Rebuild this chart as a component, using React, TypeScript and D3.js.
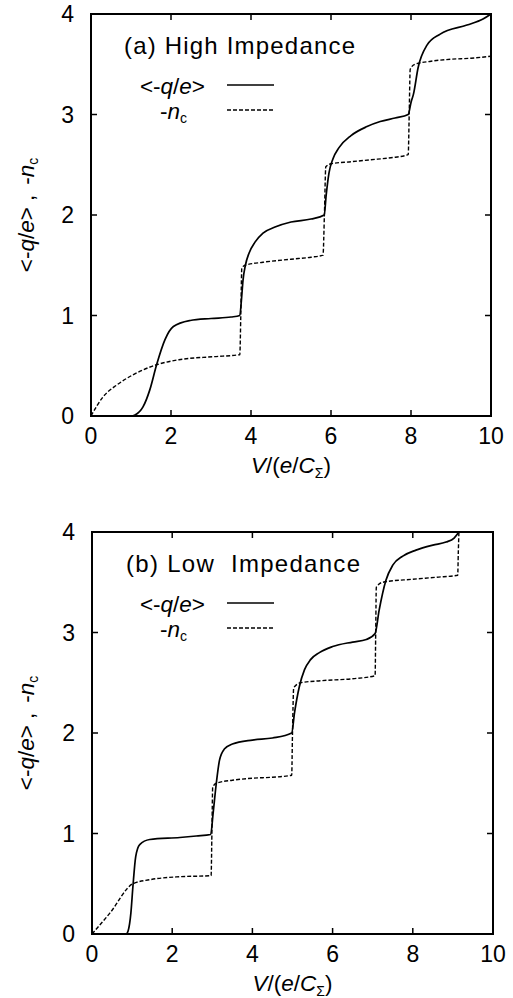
import React from 'react';
import * as d3 from 'd3';

// values: [V/(e/CΣ), value]
const highCharge: [number, number][] = [
  [0, 0], [1.0, 0], [1.1, 0.01], [1.3, 0.09], [1.47, 0.26], [1.64, 0.51], [1.85, 0.76],
  [2.06, 0.89], [2.48, 0.95], [3.0, 0.97], [3.5, 0.985], [3.72, 1.0], [3.76, 1.15],
  [3.8, 1.35], [3.86, 1.5], [3.95, 1.62], [4.1, 1.73], [4.3, 1.82], [4.6, 1.88],
  [5.0, 1.93], [5.5, 1.96], [5.83, 2.0], [5.88, 2.2], [5.95, 2.42], [6.05, 2.56],
  [6.2, 2.67], [6.5, 2.79], [6.9, 2.88], [7.23, 2.93], [7.6, 2.965], [7.93, 3.0],
  [8.0, 3.12], [8.06, 3.2], [8.18, 3.47], [8.4, 3.69], [8.73, 3.8], [9.4, 3.89],
  [9.8, 3.95], [10, 4.0],
];
const highIsland: [number, number][] = [
  [0, 0], [0.3, 0.19], [0.65, 0.31], [1.05, 0.41], [1.64, 0.51], [2.2, 0.56],
  [3.05, 0.59], [3.72, 0.61], [3.745, 1.0], [3.77, 1.47], [3.85, 1.5], [4.3, 1.53],
  [5.0, 1.56], [5.5, 1.58], [5.8, 1.6], [5.835, 2.0], [5.87, 2.48], [6.0, 2.51],
  [6.5, 2.53], [7.0, 2.55], [7.5, 2.57], [7.93, 2.6], [7.955, 3.0], [7.98, 3.45],
  [8.1, 3.5], [8.5, 3.53], [9.0, 3.55], [9.5, 3.56], [10, 3.58],
];
const lowCharge: [number, number][] = [
  [0, 0], [0.85, 0], [0.9, 0.03], [0.97, 0.21], [1.02, 0.47], [1.09, 0.77],
  [1.19, 0.89], [1.44, 0.94], [2.19, 0.96], [2.6, 0.975], [2.96, 0.99], [3.02, 1.2],
  [3.1, 1.5], [3.18, 1.73], [3.3, 1.84], [3.5, 1.89], [4.0, 1.93], [4.5, 1.95],
  [4.98, 2.0], [5.05, 2.2], [5.17, 2.46], [5.3, 2.63], [5.45, 2.73], [5.67, 2.8],
  [6.0, 2.86], [6.5, 2.905], [6.84, 2.93], [7.06, 2.99], [7.16, 3.22], [7.33, 3.52],
  [7.5, 3.67], [7.75, 3.76], [8.08, 3.82], [8.5, 3.87], [8.83, 3.9], [9.03, 3.94],
  [9.15, 4.0],
];
const lowIsland: [number, number][] = [
  [0, 0], [0.45, 0.21], [1.02, 0.5], [1.44, 0.54], [2.19, 0.57], [2.97, 0.58],
  [2.99, 1.0], [3.01, 1.46], [3.1, 1.5], [3.5, 1.53], [4.0, 1.55], [4.5, 1.56],
  [4.98, 1.58], [5.0, 2.0], [5.03, 2.45], [5.2, 2.5], [5.7, 2.52], [6.5, 2.54],
  [7.06, 2.57], [7.075, 3.0], [7.09, 3.45], [7.25, 3.5], [8.0, 3.53], [8.6, 3.55],
  [9.12, 3.57], [9.135, 3.8], [9.15, 4.0],
];

const xTicks = [0, 2, 4, 6, 8, 10];
const yTicks = [0, 1, 2, 3, 4];
const titles = ['(a) High Impedance', '(b) Low  Impedance'];

const FONT = '"Liberation Sans", Arial, Helvetica, sans-serif';

type PanelProps = {
  left: number; right: number; top: number; bottom: number;
  title: string; titleX: number; titleLen: number;
  charge: [number, number][]; island: [number, number][];
};

const Panel = ({ left, right, top, bottom, title, titleX, titleLen, charge, island }: PanelProps) => {
  const x = d3.scaleLinear().domain([0, 10]).range([left, right]);
  const y = d3.scaleLinear().domain([0, 4]).range([bottom, top]);
  const line = d3.line<[number, number]>()
    .x(d => x(d[0]))
    .y(d => y(d[1]))
    .curve(d3.curveMonotoneX);
  const tk = 6;
  const midY = (top + bottom) / 2;
  const midX = (left + right) / 2;

  return (
    <g fontFamily={FONT} fill="#000">
      <path d={line(island) ?? ''} fill="none" stroke="#000" strokeWidth={1.4} strokeDasharray="4,2" />
      <path d={line(charge) ?? ''} fill="none" stroke="#000" strokeWidth={1.7} />

      {xTicks.map(t => (
        <g key={'x' + t}>
          <line x1={x(t)} x2={x(t)} y1={bottom} y2={bottom - tk} stroke="#000" strokeWidth={1.5} />
          <line x1={x(t)} x2={x(t)} y1={top} y2={top + tk} stroke="#000" strokeWidth={1.5} />
          <text x={x(t)} y={bottom + 28} textAnchor="middle" fontSize={23}>{t}</text>
        </g>
      ))}
      {yTicks.map(t => (
        <g key={'y' + t}>
          <line x1={left} x2={left + tk} y1={y(t)} y2={y(t)} stroke="#000" strokeWidth={1.5} />
          <line x1={right} x2={right - tk} y1={y(t)} y2={y(t)} stroke="#000" strokeWidth={1.5} />
          <text x={left - 17} y={y(t) + 8} textAnchor="end" fontSize={23}>{t}</text>
        </g>
      ))}
      <rect x={left} y={top} width={right - left} height={bottom - top} fill="none" stroke="#000" strokeWidth={2} />

      <text x={titleX} y={top + 40} fontSize={24} textLength={titleLen} lengthAdjust="spacing"
        style={{ whiteSpace: 'pre' }}>{title}</text>

      {/* legend */}
      <text x={205} y={top + 80} textAnchor="end" fontSize={22.5}>
        {'<-'}<tspan fontStyle="italic">q</tspan>/<tspan fontStyle="italic">e</tspan>{'>'}
      </text>
      <line x1={227} x2={274} y1={top + 71} y2={top + 71} stroke="#000" strokeWidth={1.5} />
      <text x={160} y={top + 105} fontSize={22.5}>
        -<tspan fontStyle="italic">n</tspan><tspan fontSize={14} dy={4}>c</tspan>
      </text>
      <line x1={227} x2={274} y1={top + 96} y2={top + 96} stroke="#000" strokeWidth={1.4} strokeDasharray="4,2" />

      {/* axis titles */}
      <text x={midX} y={bottom + 57} textAnchor="middle" fontSize={22.5}>
        <tspan fontStyle="italic">V</tspan>/(<tspan fontStyle="italic">e</tspan>/<tspan fontStyle="italic">C</tspan>
        <tspan fontSize={14} dy={5}>Σ</tspan><tspan dy={-5}>)</tspan>
      </text>
      <text transform={`translate(34, ${midY}) rotate(-90)`} textAnchor="middle" fontSize={22.5}>
        {'<-'}<tspan fontStyle="italic">q</tspan>/<tspan fontStyle="italic">e</tspan>{'>'}
        <tspan dx={6}>,</tspan>
        <tspan dx={10}>-</tspan><tspan fontStyle="italic">n</tspan><tspan fontSize={14} dy={4}>c</tspan>
      </text>
    </g>
  );
};

export default function App() {
  return (
    <div style={{ position: 'absolute', left: 0, top: 0, background: '#fff' }}>
      <svg width={513} height={998} viewBox="0 0 513 998" style={{ display: 'block' }}>
        <rect width={513} height={998} fill="#fff" />
        <Panel left={91} right={491} top={14} bottom={416} title={titles[0]} titleX={124} titleLen={231}
          charge={highCharge} island={highIsland} />
        <Panel left={92} right={493} top={532} bottom={934} title={titles[1]} titleX={126} titleLen={234}
          charge={lowCharge} island={lowIsland} />
      </svg>
    </div>
  );
}
